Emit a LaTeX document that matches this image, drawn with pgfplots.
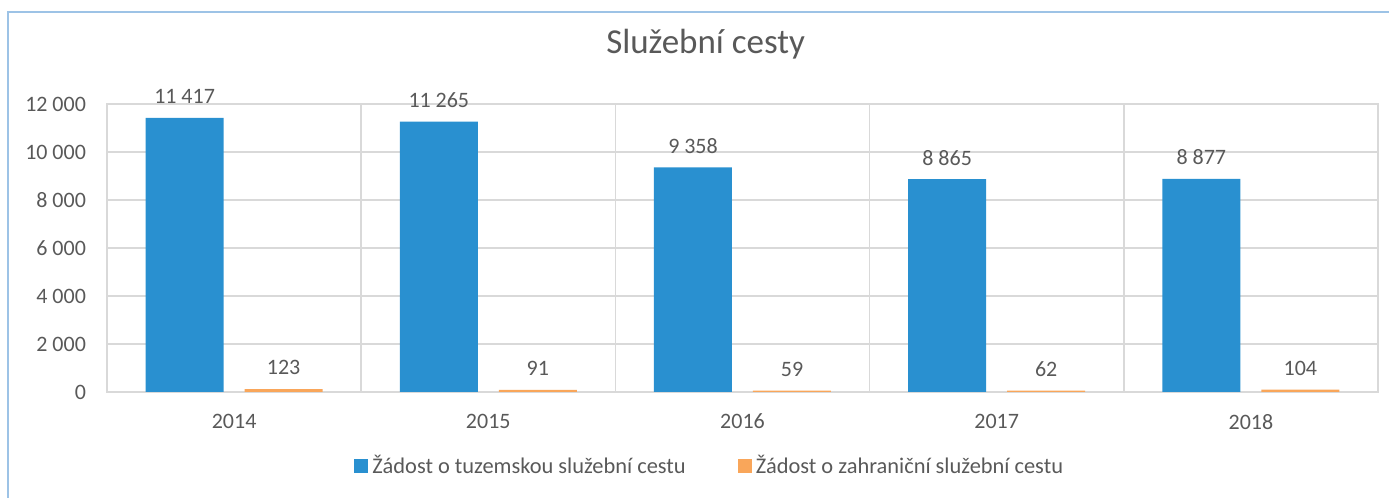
\documentclass[border=0pt]{standalone}
\usepackage{fontspec}
\setmainfont{Carlito}
\usepackage{pgfplots}
\pgfplotsset{compat=1.18}
\definecolor{barblue}{RGB}{41,144,208}
\definecolor{barorange}{RGB}{249,166,90}
\definecolor{txt}{RGB}{89,89,89}
\definecolor{gridgray}{RGB}{217,217,217}
\definecolor{framecol}{RGB}{157,195,230}

\begin{document}
\begin{tikzpicture}
\begin{axis}[
  at={(0,0)}, anchor=south west,
  scale only axis,
  width=635.5pt, height=144pt,
  ybar=10.5pt, bar width=39pt,
  xmin=-0.5, xmax=4.5,
  ymin=0, ymax=12000,
  xtick={0,1,2,3,4},
  xticklabels={2014,2015,2016,2017,2018},
  minor xtick={-0.5,0.5,1.5,2.5,3.5,4.5},
  ytick={0,2000,4000,6000,8000,10000,12000},
  ymajorgrids, xminorgrids,
  grid style={gridgray, line width=0.8pt},
  minor grid style={gridgray, line width=0.8pt},
  axis line style={gridgray, line width=0.8pt},
  major tick length=0pt, minor tick length=0pt,
  tick style={draw=none},
  /pgf/number format/assume math mode=true,
  /pgf/number format/1000 sep={\kern0.22em},
  ticklabel style={font=\fontsize{11}{13}\selectfont, text=txt},
  yticklabel style={xshift=-7pt},
  xticklabel style={yshift=-7.5pt},
  scaled y ticks=false,
  nodes near coords,
  every node near coord/.append style={font=\fontsize{11}{13}\selectfont, text=txt, yshift=3.5pt},
  title={Služební cesty},
  title style={at={(0.471,1.167)}, anchor=center, font=\fontsize{17.5}{20}\selectfont, text=txt},
  legend columns=2,
  legend style={at={(0.475,-0.257)}, anchor=center, draw=none, fill=none,
    font=\fontsize{11.2}{13}\selectfont, text=txt,
    /tikz/every even column/.append style={column sep=24pt}},
  legend image code/.code={\fill[#1] (0pt,-3.5pt) rectangle (7pt,3.5pt);},
]
\addplot[fill=barblue, draw=none] coordinates {(0,11417) (1,11265) (2,9358) (3,8865) (4,8877)};
\addplot[fill=barorange, draw=none] coordinates {(0,123) (1,91) (2,59) (3,62) (4,104)};
\legend{Žádost o tuzemskou služební cestu, Žádost o zahraniční služební cestu}
\end{axis}
\draw[framecol, line width=0.9pt] (-49.5pt,-60pt) -- (-49.5pt,190pt) -- (650pt,190pt);
\pgfresetboundingbox
\useasboundingbox (-53.5pt,-53pt) rectangle (641pt,196pt);
\end{tikzpicture}
\end{document}
